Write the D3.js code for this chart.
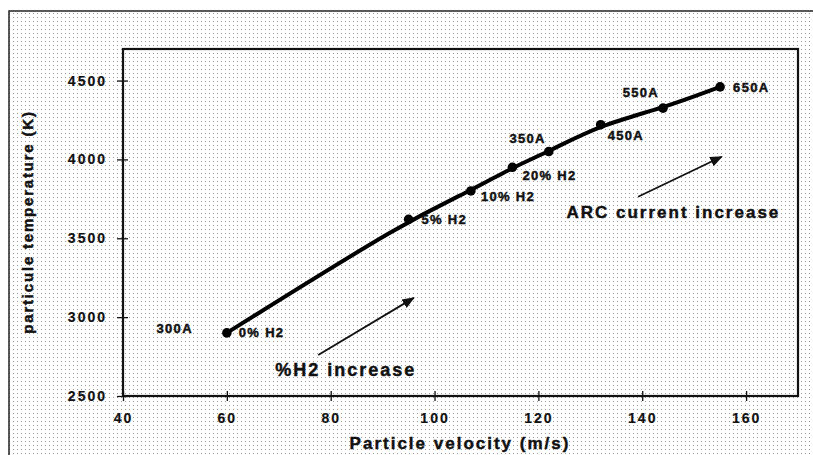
<!DOCTYPE html>
<html><head><meta charset="utf-8">
<script src="https://cdn.jsdelivr.net/npm/d3@7"></script>
<style>html,body{margin:0;padding:0;background:#fff;}svg{display:block;}</style>
</head><body>
<script>
// ---- data ----
const velocity = [60, 95, 107, 115, 122, 132, 144, 155];
const temperature = [2900, 3620, 3800, 3950, 4050, 4220, 4325, 4460];
const pointLabels = [
  {i:0, text:"300A"}, {i:0, text:"0% H2"}, {i:1, text:"5% H2"}, {i:2, text:"10% H2"},
  {i:3, text:"20% H2"}, {i:4, text:"350A"}, {i:5, text:"450A"}, {i:6, text:"550A"}, {i:7, text:"650A"}
];
const xTicks = [40, 60, 80, 100, 120, 140, 160];
const yTicks = [2500, 3000, 3500, 4000, 4500];
const xTitle = "Particle velocity (m/s)";
const yTitle = "particule temperature (K)";
const annotations = [
  {text:"%H2 increase", from:[77.6, 2760], to:[96, 3122], at:[82.9, 2665]},
  {text:"ARC current increase", from:[139.2, 3763], to:[155.3, 4017], at:[146, 3662]}
];

// ---- layout / style ----
const W = 813, H = 455;
const m = {left:123, top:49, right:798, bottom:396};
const labelOffsets = [
  {dx:-34, dy:-4, anchor:"end"}, {dx:12, dy:0, anchor:"start"}, {dx:13, dy:0, anchor:"start"},
  {dx:10, dy:6, anchor:"start"}, {dx:10, dy:8, anchor:"start"}, {dx:-3, dy:-13, anchor:"end"},
  {dx:7, dy:11, anchor:"start"}, {dx:-4, dy:-16, anchor:"end"}, {dx:13, dy:1, anchor:"start"}
];
const font = "'Liberation Sans', Arial, sans-serif";
const heavy = sel => sel.attr("font-family",font).attr("font-weight","bold").attr("fill","#111")
  .attr("stroke","#111").attr("stroke-width",0.45);

const svg = d3.select("body").append("svg").attr("width", W).attr("height", H);
const defs = svg.append("defs");
const pat = defs.append("pattern").attr("id","dots").attr("width",4).attr("height",4)
  .attr("patternUnits","userSpaceOnUse");
pat.append("rect").attr("width",4).attr("height",4).attr("fill","#fff");
pat.append("rect").attr("x",1).attr("y",1).attr("width",1).attr("height",1).attr("fill","#9a9a9a");
defs.append("marker").attr("id","arr").attr("viewBox","0 0 10 10").attr("refX",9).attr("refY",5)
  .attr("markerWidth",7).attr("markerHeight",7).attr("orient","auto-start-reverse")
  .append("path").attr("d","M0,1 L10,5 L0,9 Z").attr("fill","#111");

svg.append("rect").attr("x",9).attr("y",11).attr("width",W-9).attr("height",H-11).attr("fill","url(#dots)");
svg.append("path").attr("d",`M9,${H} L9,11 L${W},11`).attr("fill","none").attr("stroke","#222").attr("stroke-width",1.5);

const x = d3.scaleLinear().domain([40,170]).range([m.left, m.right]);
const y = d3.scaleLinear().domain([2500,4700]).range([m.bottom, m.top]);

// plot frame
svg.append("rect").attr("x",m.left).attr("y",m.top).attr("width",m.right-m.left).attr("height",m.bottom-m.top)
  .attr("fill","none").attr("stroke","#111").attr("stroke-width",2.2);

// axes
const xa = svg.append("g").attr("transform",`translate(0,${m.bottom})`)
  .call(d3.axisBottom(x).tickValues(xTicks).tickFormat(d3.format("d")).tickSize(0).tickPadding(14));
xa.select(".domain").remove();
xa.selectAll(".tick").append("line").attr("y1",-5).attr("y2",5).attr("stroke","#111").attr("stroke-width",1.3);
xa.selectAll("text").call(heavy).attr("font-size",14).attr("letter-spacing","2px").attr("stroke-width",0.2).attr("dy","0.9em");
const ya = svg.append("g").attr("transform",`translate(${m.left},0)`)
  .call(d3.axisLeft(y).tickValues(yTicks).tickFormat(d3.format("d")).tickSize(0).tickPadding(16));
ya.select(".domain").remove();
ya.selectAll(".tick").append("line").attr("x1",-6).attr("x2",5).attr("stroke","#111").attr("stroke-width",1.3);
ya.selectAll("text").call(heavy).attr("font-size",14).attr("letter-spacing","2px").attr("stroke-width",0.2);

// titles
svg.append("text").attr("x",460).attr("y",443).attr("text-anchor","middle").attr("dominant-baseline","central")
  .call(heavy).attr("font-size",17).attr("letter-spacing","2px").text(xTitle);
svg.append("text").attr("transform","translate(27,222) rotate(-90)").attr("text-anchor","middle").attr("dominant-baseline","central")
  .call(heavy).attr("font-size",15).attr("letter-spacing","1.8px").text(yTitle);

// curve (smoothed through the measured points)
const pts = velocity.map((v,i)=>[v, temperature[i]]);
svg.append("path").datum(pts)
  .attr("d", d3.line().x(d=>x(d[0])).y(d=>y(d[1])).curve(d3.curveBasis))
  .attr("fill","none").attr("stroke","#000").attr("stroke-width",4).attr("stroke-linecap","round");
svg.selectAll(".mk").data(pts).enter().append("path")
  .attr("transform", d=>`translate(${x(d[0])},${y(d[1])})`)
  .attr("d", d3.symbol(d3.symbolCircle, 72)).attr("fill","#000");

// point labels
svg.selectAll(".pl").data(pointLabels).enter().append("text")
  .attr("x",(d,k)=>x(velocity[d.i])+labelOffsets[k].dx)
  .attr("y",(d,k)=>y(temperature[d.i])+labelOffsets[k].dy)
  .attr("text-anchor",(d,k)=>labelOffsets[k].anchor).attr("dominant-baseline","central")
  .call(heavy).attr("font-size",13).attr("letter-spacing","1.3px")
  .text(d=>d.text);

// annotations
annotations.forEach((a,k)=>{
  svg.append("line").attr("x1",x(a.from[0])).attr("y1",y(a.from[1])).attr("x2",x(a.to[0])).attr("y2",y(a.to[1]))
    .attr("stroke","#111").attr("stroke-width",1.8).attr("marker-end","url(#arr)");
  svg.append("text").attr("x",x(a.at[0])).attr("y",y(a.at[1])).attr("text-anchor","middle").attr("dominant-baseline","central")
    .call(heavy).attr("font-size",k===0?18:17).attr("letter-spacing","2px")
    .text(a.text);
});
</script>
</body></html>
